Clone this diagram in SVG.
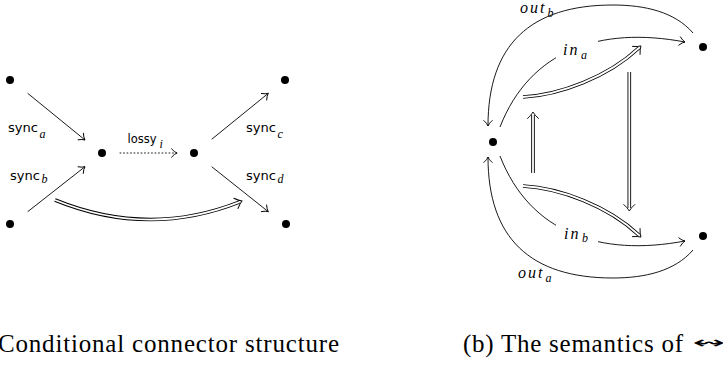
<svg xmlns="http://www.w3.org/2000/svg" width="723" height="365" viewBox="0 0 723 365">
  <defs>
    <style>
      .ln { fill: none; stroke: #000; stroke-width: 0.9; }
      .arr { marker-end: url(#to); }
      .dot { fill: #000; }
      .dotted { stroke-dasharray: 0.9 2.6; stroke-linecap: round; }
      .dblo { fill: none; stroke: #000; stroke-width: 3.6; marker-end: url(#dbl); }
      .dbli { fill: none; stroke: #fff; stroke-width: 1.8; }
      .sf { font-family: "DejaVu Sans", "Noto Sans", sans-serif; font-size: 13px; fill: #000; }
      .mi { font-family: "Liberation Serif", "DejaVu Serif", serif; font-style: italic; font-size: 16px; letter-spacing: 2px; fill: #000; }
      .sub { font-size: 12px; letter-spacing: 0; }
      .cap { font-family: "Liberation Serif", "DejaVu Serif", serif; font-size: 25px; fill: #000; }
    </style>
    <marker id="to" markerUnits="userSpaceOnUse" markerWidth="14" markerHeight="14" refX="0" refY="0" viewBox="-7 -7 14 14" orient="auto" overflow="visible">
      <path d="M-5.5,-4.2 Q-2.6,-0.9 0,0 Q-2.6,0.9 -5.5,4.2" fill="none" stroke="#000" stroke-width="0.9" stroke-linecap="round"/>
    </marker>
    <marker id="dbl" markerUnits="userSpaceOnUse" markerWidth="16" markerHeight="16" refX="0" refY="0" viewBox="-8 -8 16 16" orient="auto" overflow="visible">
      <path d="M-3.5,-5.5 Q0,-1.6 3,0 Q0,1.6 -3.5,5.5" fill="none" stroke="#000" stroke-width="0.9" stroke-linecap="round"/>
    </marker>
  </defs>

  <!-- left: conditional connector structure -->
  <g id="left-nodes">
    <g id="n-a"><circle class="dot" cx="10" cy="80" r="4"/></g>
    <g id="n-b"><circle class="dot" cx="10" cy="224" r="4"/></g>
    <g id="n-x"><circle class="dot" cx="102" cy="153" r="4"/></g>
    <g id="n-y"><circle class="dot" cx="194" cy="153" r="4"/></g>
    <g id="n-c"><circle class="dot" cx="285" cy="80" r="4"/></g>
    <g id="n-d"><circle class="dot" cx="286" cy="224" r="4"/></g>
  </g>

  <g id="left-connectors">
    <path class="ln arr" d="M27.7,93.3 L85,140"/>
    <path class="ln arr" d="M27.7,211.7 L85,166.7"/>
    <path class="ln arr" d="M211.7,139.3 L268.3,93.3"/>
    <path class="ln arr" d="M211.7,166.7 L268.3,211.7"/>
    <path class="ln dotted arr" d="M120,153 L177,153"/>
    <path class="dblo" d="M55,200 Q148,238 239.2,202.1"/>
    <path class="dbli" d="M55,200 Q148,238 239.2,202.1"/>
  </g>

  <g id="left-labels">
    <text class="sf" x="8" y="132" textLength="30" lengthAdjust="spacingAndGlyphs">sync</text>
    <text class="mi sub" x="39.5" y="138">a</text>
    <text class="sf" x="10" y="180" textLength="30" lengthAdjust="spacingAndGlyphs">sync</text>
    <text class="mi sub" x="41.5" y="182.5">b</text>
    <text class="sf" x="246" y="132" textLength="30" lengthAdjust="spacingAndGlyphs">sync</text>
    <text class="mi sub" x="277.5" y="138">c</text>
    <text class="sf" x="246" y="180" textLength="30" lengthAdjust="spacingAndGlyphs">sync</text>
    <text class="mi sub" x="277.5" y="182.5">d</text>
    <text class="sf" x="127.5" y="143" textLength="29" lengthAdjust="spacingAndGlyphs">lossy</text>
    <text class="mi sub" x="159.5" y="148">i</text>
  </g>

  <!-- right: semantics -->
  <g id="right-nodes">
    <g id="n-l"><circle class="dot" cx="493" cy="142" r="4"/></g>
    <g id="n-ra"><circle class="dot" cx="703" cy="47" r="4"/></g>
    <g id="n-rb"><circle class="dot" cx="703" cy="236" r="4"/></g>
  </g>

  <g id="right-connectors">
    <!-- out_b -->
    <path class="ln arr" d="M693,33 C675,12 645,5 613,5 C530,5 488,45 488,126"/>
    <!-- out_a -->
    <path class="ln arr" d="M693,250 C675,271 645,278 613,278 C530,278 488,238 488,157"/>
    <!-- in_a -->
    <path class="ln arr" d="M500,127 C530,50 600,26 685,42"/>
    <!-- in_b -->
    <path class="ln arr" d="M500,156 C530,233 600,257 685,241"/>
    <!-- label clearings -->
    <rect x="556" y="40" width="42" height="23" fill="#fff"/>
    <rect x="556" y="220" width="42" height="23" fill="#fff"/>
    <!-- double arrows -->
    <path class="dblo" d="M523,97 C560,95 608,77 638.8,48"/>
    <path class="dbli" d="M523,97 C560,95 608,77 638.8,48"/>
    <path class="dblo" d="M523,186 C560,188 608,206 638.8,235"/>
    <path class="dbli" d="M523,186 C560,188 608,206 638.8,235"/>
    <path class="dblo" d="M533,173 L533,115"/>
    <path class="dbli" d="M533,173 L533,115"/>
    <path class="dblo" d="M629.3,72 L629.3,208"/>
    <path class="dbli" d="M629.3,72 L629.3,208"/>
  </g>

  <g id="right-labels">
    <text class="mi" x="520" y="13">out</text>
    <text class="mi sub" x="547.5" y="16.5">b</text>
    <text class="mi" x="563" y="55">in</text>
    <text class="mi sub" x="581" y="58.5">a</text>
    <text class="mi" x="564" y="239">in</text>
    <text class="mi sub" x="582" y="242">b</text>
    <text class="mi" x="518" y="278">out</text>
    <text class="mi sub" x="545.5" y="281.5">a</text>
  </g>

  <g id="captions">
    <text class="cap" x="-2" y="352" textLength="341" lengthAdjust="spacing">Conditional connector structure</text>
    <text class="cap" x="463" y="352" textLength="220" lengthAdjust="spacing">(b) The semantics of</text>
    <text x="692" y="348" font-family="DejaVu Sans, sans-serif" font-size="16px" textLength="33" lengthAdjust="spacingAndGlyphs">↭</text>
  </g>
</svg>
